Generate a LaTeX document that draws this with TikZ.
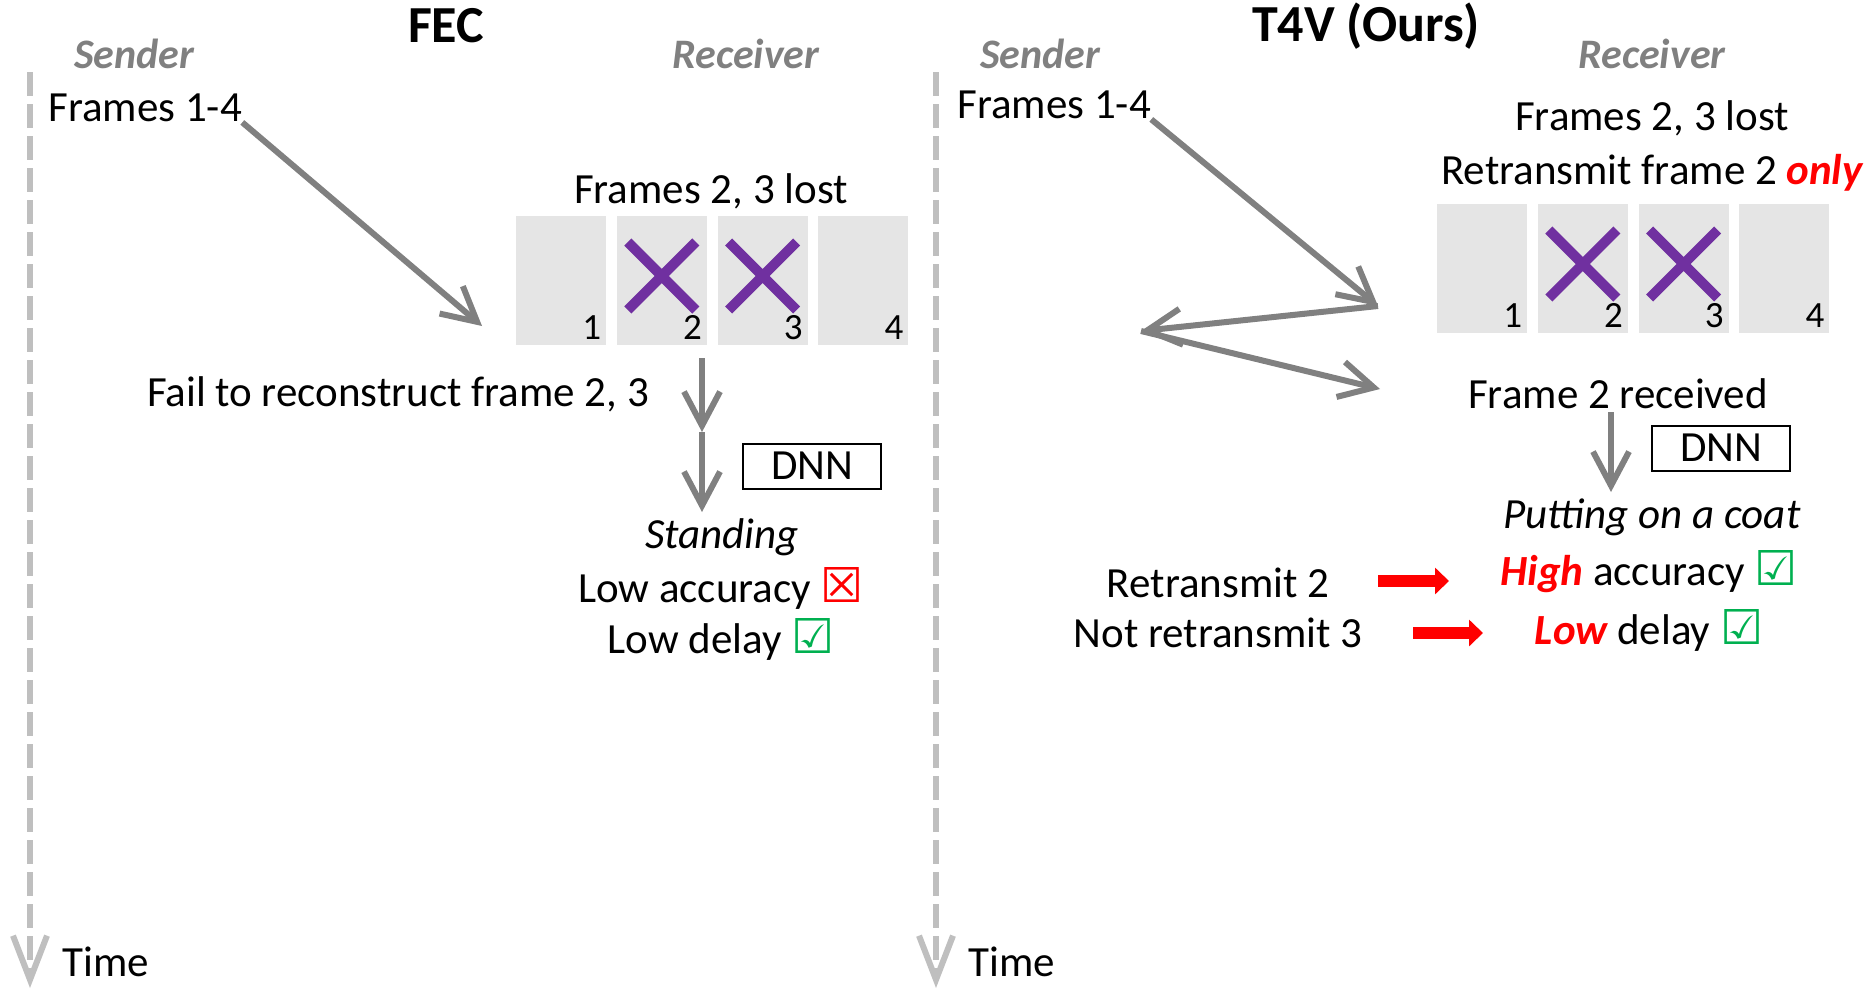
\documentclass[tikz,border=0pt]{standalone}
\usepackage{fontspec}
\setmainfont{Carlito}
\newfontfamily\symfont{DejaVu Sans}
\usetikzlibrary{positioning, arrows.meta, shapes.misc}

\definecolor{lossPurple}{RGB}{112,48,160}
\definecolor{okGreen}{RGB}{0,176,80}

\newcommand{\chkyes}{{\symfont\fontsize{24}{24}\selectfont\textcolor{okGreen}{☑}}}
\newcommand{\chkno}{{\symfont\fontsize{24}{24}\selectfont\textcolor{red}{☒}}}

\tikzset{
    every node/.style={inner sep=0pt},
    title/.style={font=\fontsize{26}{30}\selectfont\bfseries},
    role/.style={font=\fontsize{21}{25}\selectfont\bfseries\itshape, text=gray},
    pred/.style={font=\fontsize{21.5}{24}\selectfont\itshape},
    frame/.style={fill=gray!20, minimum width=45pt, minimum height=64.5pt},
    fnum/.style={font=\fontsize{18.5}{20}\selectfont, anchor=south east, inner sep=2.5pt},
    lost/.style={cross out, draw=lossPurple, line width=5pt, minimum size=29pt},
    dnn/.style={draw, line width=1pt, minimum width=69pt, minimum height=22.5pt},
    msg/.style={draw=gray, line width=3pt, -{Straight Barb[length=17pt, width=18pt]}},
    timeline/.style={draw=gray!50, line width=3pt, dash pattern=on 12pt off 4pt,
        -{Straight Barb[length=22pt, width=17pt]}},
    gain/.style={draw=red, line width=6pt, -{Triangle[length=7pt, width=13pt]}},
}

\begin{document}
\begin{tikzpicture}[x=0.5pt, y=-0.5pt, font=\fontsize{21.5}{24}\selectfont]
\useasboundingbox (0,0) rectangle (1874,991);

% time axes
\coordinate (topA) at (30,72);
\coordinate (endA) at (30,988);
\coordinate (topB) at (936,72);
\coordinate (endB) at (936,988);
\draw[timeline] (topA) -- (endA);
\draw[timeline] (topB) -- (endB);
\node[anchor=west] (timeA) at (62,962) {Time};
\node[anchor=west] (timeB) at (968,962) {Time};

% FEC
\node[title] (fecTitle) at (446,26) {FEC};
\node[role] (sendA) at (134,54) {Sender};
\node[role] (recvA) at (746,54) {Receiver};
\node[anchor=west] (framesA) at (48,108) {Frames 1-4};
\node (lostA) at (711,191) {Frames 2, 3 lost};

\node[frame] (fa1) at (561,280) {};
\node[frame, right=5pt of fa1] (fa2) {};
\node[frame, right=5pt of fa2] (fa3) {};
\node[frame, right=5pt of fa3] (fa4) {};
\foreach \i in {1,...,4}
    \node[fnum] at (fa\i.south east) {\i};
\node[lost] at ([yshift=2pt]fa2.center) {};
\node[lost] at ([yshift=2pt]fa3.center) {};

\coordinate (fecIn) at (482,326);
\draw[msg] (framesA.south east) -- (fecIn);

\node (failA) at (398,394) {Fail to reconstruct frame 2, 3};
\coordinate (fecOut) at (702,358);
\coordinate (fecMid) at (702,432);
\coordinate (fecRes) at (702,512);
\draw[msg] (fecOut) -- (fecMid);
\draw[msg] (fecMid) -- (fecRes);
\node[dnn] (dnnA) at (812,466) {DNN};

\node[pred] (predA) at (722,537) {Standing};
\node (accA) at (721,588) {Low accuracy \chkno};
\node (delayA) at (721,639) {Low delay \chkyes};

% T4V
\node[title] (oursTitle) at (1366,26) {T4V (Ours)};
\node[role] (sendB) at (1040,54) {Sender};
\node[role] (recvB) at (1652,54) {Receiver};
\node[anchor=west] (framesB) at (957,105) {Frames 1-4};
\node (lostB) at (1652,118) {Frames 2, 3 lost};
\node (askB) at (1652,173) {Retransmit frame 2 \textcolor{red}{\bfseries\itshape only}};

\node[frame] (fb1) at (1482,268) {};
\node[frame, right=5pt of fb1] (fb2) {};
\node[frame, right=5pt of fb2] (fb3) {};
\node[frame, right=5pt of fb3] (fb4) {};
\foreach \i in {1,...,4}
    \node[fnum] at (fb\i.south east) {\i};
\node[lost] at ([yshift=2pt]fb2.center) {};
\node[lost] at ([yshift=2pt]fb3.center) {};

\coordinate (rAck) at (1378,306);
\coordinate (sRe) at (1141,331);
\coordinate (rGot) at (1380,389);
\draw[msg] (framesB.south east) -- (rAck);
\draw[msg] (rAck) -- (sRe);
\draw[msg] (sRe) -- (rGot);

\node (gotB) at (1618,394) {Frame 2 received};
\coordinate (t4vOut) at (1611,412);
\coordinate (t4vRes) at (1611,492);
\draw[msg] (t4vOut) -- (t4vRes);
\node[dnn] (dnnB) at (1721,448) {DNN};

\node[pred] (predB) at (1652,517) {Putting on a coat};
\node (accB) at (1649,572) {\textcolor{red}{\bfseries\itshape High} accuracy \chkyes};
\node (delayB) at (1649,630) {\textcolor{red}{\bfseries\itshape Low} delay \chkyes};

\node (reTwo) at (1218,583) {Retransmit 2};
\node (reThree) at (1218,633) {Not retransmit 3};
\coordinate (gainA0) at (1378,581);
\coordinate (gainA1) at (1449,581);
\coordinate (gainB0) at (1413,633);
\coordinate (gainB1) at (1483,633);
\draw[gain] (gainA0) -- (gainA1);
\draw[gain] (gainB0) -- (gainB1);
\end{tikzpicture}
\end{document}
